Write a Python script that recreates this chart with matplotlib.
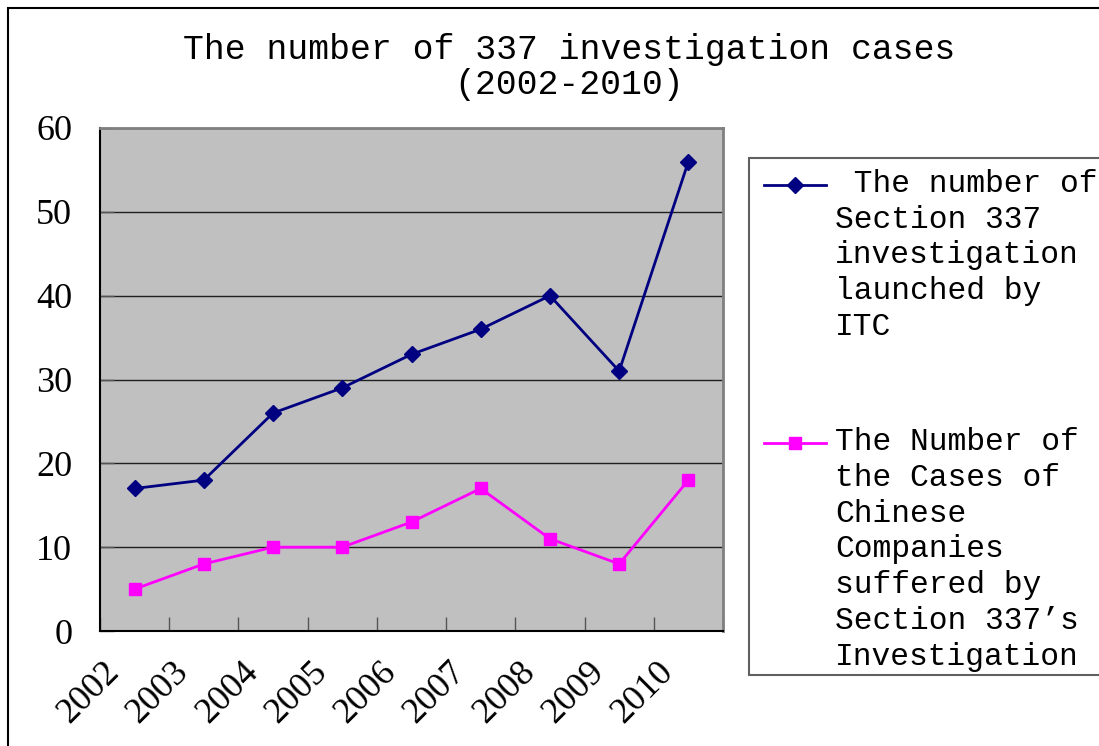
import matplotlib
matplotlib.use("Agg")
import matplotlib.pyplot as plt
import matplotlib.transforms as mtransforms
from matplotlib.patches import Rectangle
from matplotlib.lines import Line2D
from matplotlib.ticker import MultipleLocator, FixedLocator

years = ["2002", "2003", "2004", "2005", "2006", "2007", "2008", "2009", "2010"]
itc_cases = [17, 18, 26, 29, 33, 36, 40, 31, 56]
chinese_cases = [5, 8, 10, 10, 13, 17, 11, 8, 18]

label_itc = " The number of\nSection 337\ninvestigation\nlaunched by\nITC"
label_cn = "The Number of\nthe Cases of\nChinese\nCompanies\nsuffered by\nSection 337’s\nInvestigation"

W, H = 1099, 746
fig = plt.figure(figsize=(W / 100, H / 100), dpi=100)
ax = fig.add_axes([100 / W, 1 - 631 / H, 623 / W, 503 / H])

blue = "#000080"
pink = "#FF00FF"

x = list(range(len(years)))
ax.plot(x, itc_cases, color=blue, lw=2, marker="D", markersize=8)
ax.plot(x, chinese_cases, color=pink, lw=2, marker="s", markersize=9)

ax.set_facecolor("#C0C0C0")
ax.set_xlim(-0.5, 8.5)
ax.set_ylim(0, 60)
ax.yaxis.set_major_locator(MultipleLocator(10))
ax.grid(axis="y", color="#202020", lw=1)
ax.set_axisbelow(True)

# spines: dark left/bottom, gray top/right
for s in ["left", "bottom"]:
    ax.spines[s].set_color("black")
    ax.spines[s].set_linewidth(1.5)
for s in ["top", "right"]:
    ax.spines[s].set_color("#808080")
    ax.spines[s].set_linewidth(2)

ax.tick_params(axis="y", direction="in", length=10, width=1, color="#555555",
               pad=20, labelsize=26)
for t in ax.get_yticklabels():
    t.set_fontfamily("Liberation Serif")

# category labels at centers, ticks on boundaries
ax.set_xticks(x)
ax.set_xticklabels(years, rotation=45, ha="right", va="center",
                   rotation_mode="anchor", fontsize=26, family="Liberation Serif")
ax.tick_params(axis="x", which="major", length=0, pad=0)
ax.xaxis.set_minor_locator(FixedLocator([i + 0.5 for i in range(-1, 9)]))
ax.tick_params(axis="x", which="minor", direction="in", length=10, width=1,
               color="#555555")
offset = mtransforms.ScaledTranslation(-0.20, -0.36, fig.dpi_scale_trans)
for lbl in ax.get_xticklabels():
    lbl.set_transform(lbl.get_transform() + offset)

fig.text(569 / W, 1 - 67 / H,
         "The number of 337 investigation cases\n(2002-2010)",
         ha="center", va="center", fontsize=25, family="Liberation Mono",
         linespacing=1.1)

# legend drawn by hand so the keys sit on the first text line
fig.patches.append(Rectangle((749 / W, 1 - 675 / H), 0.5, 517 / H,
                             transform=fig.transFigure, facecolor="white",
                             edgecolor="#606060", lw=1.5, clip_on=False))
for y_px, color, mk, ms, text in [(185, blue, "D", 8, label_itc),
                                  (443, pink, "s", 9, label_cn)]:
    yf = 1 - y_px / H
    fig.add_artist(Line2D([764 / W, 826 / W], [yf, yf], color=color, lw=2,
                          transform=fig.transFigure))
    fig.add_artist(Line2D([795 / W], [yf], color=color, marker=mk,
                          markersize=ms, transform=fig.transFigure))
    fig.text(835 / W, 1 - (y_px - 16) / H, text, ha="left", va="top",
             fontsize=22.5, family="Liberation Mono", linespacing=1.25,
             transform=fig.transFigure)

# outer chart border (cut off at right and bottom)
fig.patches.append(Rectangle((8 / W, -0.05), 1.2, 1 - 8 / H + 0.05,
                             transform=fig.transFigure, fill=False,
                             edgecolor="black", lw=1.5, clip_on=False))

fig.savefig("out.png", dpi=100)
